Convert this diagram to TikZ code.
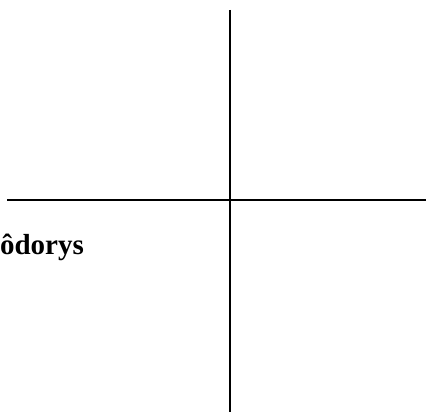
\documentclass[tikz,border=0pt]{standalone}
\usepackage{fontspec}
\setmainfont{Liberation Serif}
\usepackage{tikz}
\usetikzlibrary{positioning}

\begin{document}
\begin{tikzpicture}[x=1pt, y=-1pt, every node/.style={font=\bfseries\fontsize{29}{32}\selectfont}]
  \clip (0,0) rectangle (428,419);
  \useasboundingbox (0,0) rectangle (428,419);

  \coordinate (top) at (230,10);
  \coordinate (bottom) at (230,412);
  \coordinate (left) at (7,200);
  \coordinate (right) at (426,200);

  \node[anchor=base east, inner sep=0pt] (plan) at (84,255) {ôdorys};

  \draw[line width=1.6pt] (left) -- (right);
  \draw[line width=1.6pt] (top) -- (bottom);
\end{tikzpicture}
\end{document}
